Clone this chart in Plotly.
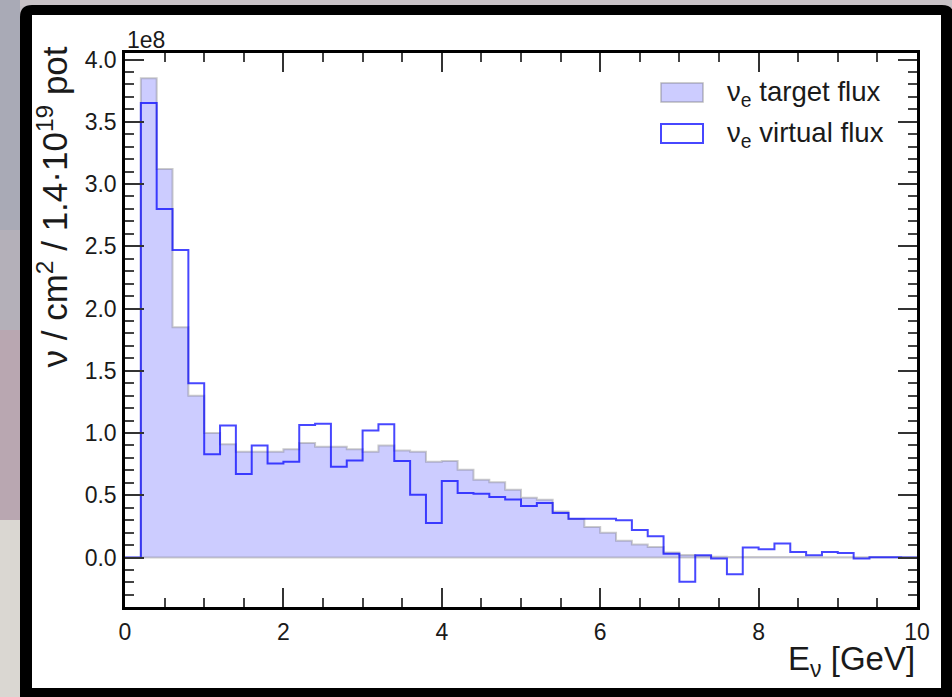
import numpy as np
import plotly.graph_objects as go

# Neutrino energy binning [GeV]
E_MIN, E_MAX, N_BINS = 0.0, 10.0, 50
OFFSET_LABEL = "1e8"

# nu_e flux per bin, in units of 1e8 nu / cm^2 / 1.4e19 pot
target_flux = [
    0.00, 3.85, 3.12, 1.85, 1.30, 1.00, 0.91, 0.85, 0.85, 0.85,
    0.87, 0.92, 0.89, 0.89, 0.87, 0.85, 0.90, 0.86, 0.85, 0.77,
    0.775, 0.705, 0.625, 0.605, 0.545, 0.48, 0.465, 0.37, 0.31, 0.245,
    0.20, 0.135, 0.105, 0.085, 0.04, 0.02, 0.01, 0.006, 0.005, 0.005,
    0.004, 0.004, 0.004, 0.003, 0.003, 0.003, 0.002, 0.002, 0.002, 0.002,
]
virtual_flux = [
    0.00, 3.65, 2.80, 2.47, 1.40, 0.83, 1.06, 0.67, 0.90, 0.755,
    0.77, 1.065, 1.075, 0.73, 0.78, 1.02, 1.07, 0.775, 0.505, 0.277,
    0.614, 0.518, 0.513, 0.486, 0.467, 0.414, 0.438, 0.357, 0.312, 0.312,
    0.312, 0.30, 0.222, 0.17, 0.03, -0.195, 0.018, -0.008, -0.134, 0.08,
    0.066, 0.112, 0.045, 0.018, 0.045, 0.037, -0.008, 0.003, 0.003, 0.0,
]
legend_labels = ["ν<sub>e</sub> target flux", "ν<sub>e</sub> virtual flux"]

edges = np.linspace(E_MIN, E_MAX, N_BINS + 1)

# page geometry
W, H = 952, 697
ML, MR, MT, MB = 125, 35, 53, 90
PW, PH = W - ML - MR, H - MT - MB


def px(x):
    return (x - ML) / PW


def py(y):
    return (H - MB - y) / PH


FONT = "Liberation Sans, Arial, Helvetica, sans-serif"
TEXT = "#1a1a1a"
FILL = "rgba(0,0,255,0.2)"
EDGE = "rgba(110,110,110,0.35)"
LINE = "rgba(0,0,255,0.72)"

fig = go.Figure()

# filled histogram, closed along the baseline
tx = list(edges) + [E_MAX, E_MIN]
ty = list(target_flux) + [target_flux[-1], 0.0, 0.0]
fig.add_trace(go.Scatter(
    x=tx, y=ty, mode="lines", line=dict(shape="hv", color=EDGE, width=2),
    fill="toself", fillcolor=FILL, showlegend=False, hoverinfo="skip",
))

# step histogram
vy = list(virtual_flux) + [virtual_flux[-1]]
fig.add_trace(go.Scatter(
    x=list(edges), y=vy, mode="lines",
    line=dict(shape="hv", color=LINE, width=2),
    showlegend=False, hoverinfo="skip",
))

all_vals = target_flux + virtual_flux
lo, hi = min(all_vals), max(all_vals)
pad = 0.05 * (hi - lo)
y_range = [lo - pad, hi + pad]

axis_common = dict(
    showline=True, linewidth=2.5, linecolor="black", mirror="ticks",
    ticks="inside", ticklen=19, tickwidth=2, tickcolor="#333",
    showgrid=False, zeroline=False,
    tickfont=dict(family=FONT, size=23, color=TEXT),
)

fig.update_xaxes(
    range=[E_MIN, E_MAX], tick0=0, dtick=2,
    minor=dict(dtick=0.5, ticks="inside", ticklen=9, tickwidth=1.8, tickcolor="#444"),
    ticklabelstandoff=3,
    **axis_common,
)
fig.update_yaxes(
    range=y_range, tick0=0, dtick=0.5, tickformat=".1f",
    minor=dict(dtick=0.1, ticks="inside", ticklen=9, tickwidth=1.8, tickcolor="#444"),
    ticklabelstandoff=1,
    **axis_common,
)

shapes = []
# textured surround
for (y0, y1, col) in [(0, 230, "#a9aab6"), (230, 330, "#b4b0b9"),
                      (330, 520, "#b9a7b1"), (520, H, "#dad7d2")]:
    shapes.append(dict(type="rect", xref="paper", yref="paper", layer="below",
                       x0=px(-5), x1=px(20), y0=py(y1), y1=py(y0),
                       fillcolor=col, line=dict(width=0)))
shapes.append(dict(type="rect", xref="paper", yref="paper", layer="below",
                   x0=px(20), x1=px(W + 5), y0=py(6), y1=py(-5),
                   fillcolor="#c8c2c6", line=dict(width=0)))

# black frame with rounded top corners
r = 12
fx0, fx1, fy0, fy1 = 20, W + 5, 5, H + 5
path = (
    f"M {px(fx0)},{py(fy1)} "
    f"L {px(fx0)},{py(fy0 + r)} "
    f"Q {px(fx0)},{py(fy0)} {px(fx0 + r)},{py(fy0)} "
    f"L {px(W - r + 2)},{py(fy0)} "
    f"Q {px(W + 2)},{py(fy0)} {px(W + 2)},{py(fy0 + r)} "
    f"L {px(fx1)},{py(fy1)} Z"
)
shapes.append(dict(type="path", path=path, xref="paper", yref="paper", layer="below",
                   fillcolor="black", line=dict(width=0)))
# white card
shapes.append(dict(type="rect", xref="paper", yref="paper", layer="below",
                   x0=px(32), x1=px(941), y0=py(688), y1=py(15),
                   fillcolor="white", line=dict(width=0)))

# legend swatches
shapes.append(dict(type="rect", xref="paper", yref="paper",
                   x0=px(661), x1=px(703), y0=py(102), y1=py(83),
                   fillcolor=FILL, line=dict(color="rgba(110,110,110,0.45)", width=1.5)))
shapes.append(dict(type="rect", xref="paper", yref="paper",
                   x0=px(661), x1=px(703), y0=py(143), y1=py(124),
                   fillcolor="white", line=dict(color=LINE, width=2)))

annotations = [
    dict(text=legend_labels[0], x=px(725), y=py(93), xanchor="left", yanchor="middle"),
    dict(text=legend_labels[1], x=px(725), y=py(134), xanchor="left", yanchor="middle"),
]
for a in annotations:
    a.update(xref="paper", yref="paper", showarrow=False,
             font=dict(family=FONT, size=27.6, color=TEXT))

annotations += [
    dict(text=OFFSET_LABEL, x=0, y=py(40), xref="paper", yref="paper",
         xanchor="left", yanchor="middle", showarrow=False,
         font=dict(family=FONT, size=23, color=TEXT)),
    dict(text="E<sub>ν</sub> [GeV]", x=1, y=py(661), xref="paper", yref="paper",
         xanchor="right", yanchor="middle", showarrow=False,
         font=dict(family=FONT, size=33, color=TEXT)),
    dict(text="ν / cm<sup>2</sup> / 1.4·10<sup>19</sup> pot", x=px(52), y=py(45),
         xref="paper", yref="paper", xanchor="center", yanchor="top",
         textangle=-90, showarrow=False,
         font=dict(family=FONT, size=35, color=TEXT)),
]

fig.update_layout(
    width=W, height=H,
    margin=dict(l=ML, r=MR, t=MT, b=MB),
    paper_bgcolor="#c4bec3", plot_bgcolor="rgba(0,0,0,0)",
    shapes=shapes, annotations=annotations, showlegend=False,
)

fig.write_html("out.html")
